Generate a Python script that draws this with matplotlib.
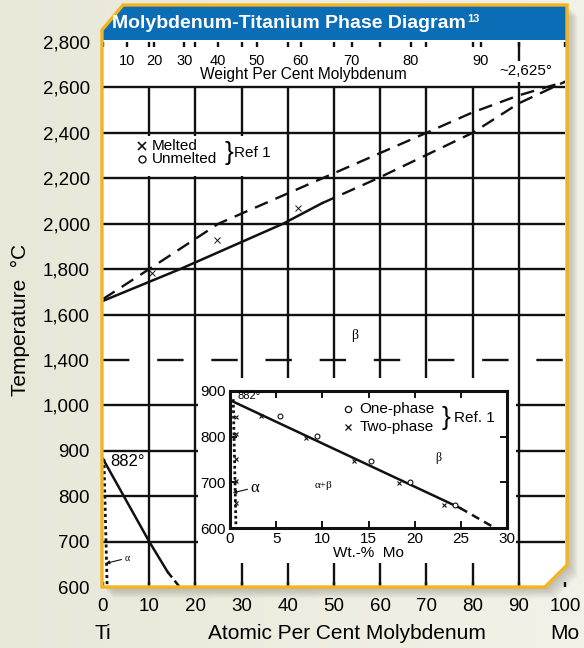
import numpy as np
import matplotlib
matplotlib.use('Agg')
import matplotlib.pyplot as plt
from matplotlib.patches import Polygon, Rectangle

plt.rcParams['font.family'] = ['Liberation Sans', 'DejaVu Sans']
plt.rcParams['lines.scale_dashes'] = False
SERIF = ['Liberation Serif', 'DejaVu Serif']

# ---------------- data ----------------
# main diagram, atomic % Mo vs temperature (C)
liq_x = [0, 10, 25, 47.5, 70, 80, 90, 100]
liq_t = [1668, 1800, 2000, 2200, 2400, 2490, 2565, 2625]
sol_x = [0, 16.7, 39, 47.4]
sol_t = [1660, 1800, 2000, 2090]
sol_dash_x = [47.4, 59.5, 80, 90, 100]
sol_dash_t = [2090, 2200, 2400, 2530, 2625]
melted_x = [10.6, 24.7, 42.3]
melted_t = [1782, 1929, 2071]

tr_x = [0, 10, 14]
tr_t = [882, 700, 633]
tr_dash_x = [14, 16.6]
tr_dash_t = [633, 600]
alpha_x = [0.2, 0.9]
alpha_t = [882, 600]

# inset, weight % Mo
in_tr_x = [0, 24.9]
in_tr_t = [880, 644]
in_dash_x = [24.9, 28.7]
in_dash_t = [644, 600]
in_alpha_x = [0.35, 0.65]
in_alpha_t = [882, 600]
one_x = [5.4, 9.4, 15.3, 19.5, 24.4]
one_t = [845, 801, 747, 701, 651]
two_x = [3.4, 8.2, 13.4, 18.3, 23.2, 0.7, 0.7, 0.7, 0.7, 0.7]
two_t = [845, 797, 747, 699, 651, 843, 806, 750, 702, 655]

y_ticks = [600, 700, 800, 900, 1000, 1400, 1600, 1800, 2000, 2200, 2400, 2600, 2800]
x_ticks = list(range(0, 101, 10))
wt_ticks = list(range(10, 100, 10))
in_x_ticks = [0, 5, 10, 15, 20, 25, 30]
in_y_ticks = [600, 700, 800, 900]

W, H = 584, 648
INK = '#111111'
YEL = '#f4b41f'
BLUE = '#0b6db5'


def fbox(l, t, r, b):
    return [l / W, 1 - b / H, (r - l) / W, (b - t) / H]


# broken temperature axis: 100 C steps below 1000, 200 C steps above 1400
def fwd(t):
    t = np.asarray(t, float)
    return np.where(t < 1000, (t - 600) / 100,
                    np.where(t < 1400, 4 + (t - 1000) / 400, 5 + (t - 1400) / 200))


def inv(v):
    v = np.asarray(v, float)
    return np.where(v < 4, 600 + 100 * v,
                    np.where(v < 5, 1000 + 400 * (v - 4), 1400 + 200 * (v - 5)))


# atomic % <-> weight % Mo
def at2wt(a):
    a = np.asarray(a, float)
    return 100 * a * 95.95 / (a * 95.95 + (100 - a) * 47.87)


def wt2at(w):
    w = np.asarray(w, float)
    return 100 * (w / 95.95) / (w / 95.95 + (100 - w) / 47.87)


fig = plt.figure(figsize=(W / 100, H / 100), dpi=100)

# ---------------- background, shadow, white panel ----------------
bg = fig.add_axes([0, 0, 1, 1], zorder=0)
bg.set_xlim(0, W)
bg.set_ylim(H, 0)
bg.axis('off')
grad = np.linspace(0, 1, 256)[None, :, None]
c0 = np.array([0.914, 0.906, 0.847])
c1 = np.array([0.952, 0.949, 0.910])
bg.imshow(c0 + (c1 - c0) * grad, extent=[0, W, H, 0], aspect='auto')
frame = np.array([(102, 30), (123, 5), (567, 5), (567, 565), (545, 587), (102, 587)])
for i in range(10):
    bg.add_patch(Polygon(frame + (2 + i, 2 + i), closed=True, color='#6f6f66',
                         alpha=0.045, lw=0))
bg.add_patch(Polygon(frame, closed=True, facecolor='white', lw=0))

# ---------------- main axes ----------------
ax = fig.add_axes(fbox(103, 42, 565, 587), zorder=1)
ax.set_facecolor('none')
ax.set_yscale('function', functions=(fwd, inv))
ax.set_xlim(0, 100)
ax.set_ylim(600, 2800)
for s in ax.spines.values():
    s.set_visible(False)

glw = 1.7
ax.vlines(x_ticks[1:9], 600, 2600, color=INK, lw=glw, zorder=2)
ax.vlines(90, 600, 2800, color=INK, lw=glw, zorder=2)
ax.hlines([700, 800, 900, 1000, 1600, 1800, 2000, 2200, 2400, 2600], 0, 100,
          color=INK, lw=glw, zorder=2)
ax.hlines(1400, 0, 100, color=INK, lw=glw, linestyles=[(0, (19, 20))], zorder=2)

# white boxes for the legend and the inset
ax.add_patch(Rectangle((2.2, 2212), 35, 176, facecolor='white', lw=0, zorder=3))
ax.add_patch(Rectangle((20.5, 653), 69.0, 591, facecolor='white', lw=0, zorder=3))

ax.plot(liq_x, liq_t, color=INK, lw=1.7, ls=(0, (10, 6)), zorder=4)
ax.plot(sol_x, sol_t, color=INK, lw=1.8, zorder=4)
ax.plot(sol_dash_x, sol_dash_t, color=INK, lw=1.7, ls=(0, (10, 6)), zorder=4)
ax.plot(melted_x, melted_t, ls='none', marker='x', ms=4, mew=0.7, color=INK, zorder=5)

ax.plot(tr_x, tr_t, color=INK, lw=1.8, zorder=4)
ax.plot(tr_dash_x, tr_dash_t, color=INK, lw=1.8, ls=(0, (5, 3)), zorder=4)
ax.plot(alpha_x, alpha_t, color=INK, lw=2.0, ls=(0, (2.2, 2.2)), zorder=4)

ax.set_xticks(x_ticks)
ax.tick_params(axis='x', top=True, bottom=True, direction='in', length=3.8,
               width=1.7, color=INK, labelsize=13.5, pad=8)
ax.set_yticks(y_ticks)
ax.set_yticklabels([f'{t:,}' for t in y_ticks])
ax.tick_params(axis='y', length=0, labelsize=13.5, pad=9.5)

sec = ax.secondary_xaxis('top', functions=(at2wt, wt2at))
sec.set_xticks(wt_ticks)
sec.tick_params(direction='in', length=3.8, width=1.7, color=INK,
                labelsize=10.5, pad=-19)
sec.spines['top'].set_visible(False)

ax.text(43.3, 2655, 'Weight Per Cent Molybdenum', fontsize=11.2, ha='center',
        va='center', zorder=5)
ax.text(91.5, 2672, '~2,625°', fontsize=11, ha='center', va='center', zorder=5,
        bbox=dict(facecolor='white', edgecolor='none', pad=2.5))

# legend of the main diagram
ax.plot([8.4], [2342], ls='none', marker='x', ms=5.5, mew=1.2, color=INK, zorder=5)
ax.plot([8.4], [2284], ls='none', marker='o', ms=5, mew=1.0, mfc='white',
        color=INK, zorder=5)
ax.text(10.6, 2342, 'Melted', fontsize=11, va='center', zorder=5)
ax.text(10.6, 2284, 'Unmelted', fontsize=11, va='center', zorder=5)
ax.text(26.3, 2312, '}', fontsize=19, va='center', zorder=5)
ax.text(28.3, 2312, 'Ref 1', fontsize=11, va='center', zorder=5)

ax.text(54.5, 1508, 'β', fontsize=10, family=SERIF, ha='center', va='center', zorder=5)
ax.text(1.5, 876, '882°', fontsize=12, va='center', zorder=5)
ax.annotate('α', xy=(0.6, 652), xytext=(4.6, 662), fontsize=7, family=SERIF,
            va='center', ha='left', zorder=5,
            arrowprops=dict(arrowstyle='-|>', lw=0.8, mutation_scale=5,
                            shrinkA=0, shrinkB=0, relpos=(0, 0.5), color=INK))

xt = ax.get_xaxis_transform()
ax.text(0, -0.086, 'Ti', transform=xt, fontsize=15, ha='center', va='center')
ax.text(52.9, -0.086, 'Atomic Per Cent Molybdenum', transform=xt, fontsize=15,
        ha='center', va='center')
ax.text(100, -0.086, 'Mo', transform=xt, fontsize=15, ha='center', va='center')
fig.text(20 / W, 1 - 320 / H, 'Temperature  °C', rotation=90, fontsize=15,
         ha='center', va='center')

# ---------------- inset ----------------
ins = fig.add_axes(fbox(230, 391, 507, 528), zorder=2)
ins.set_xlim(0, 30)
ins.set_ylim(600, 900)
for s in ins.spines.values():
    s.set_linewidth(2.2)
    s.set_color(INK)
ins.set_xticks(in_x_ticks)
ins.set_yticks(in_y_ticks)
ins.tick_params(direction='in', top=True, right=True, length=5, width=1.4,
                color=INK, labelsize=11, pad=3)
ins.set_xlabel('Wt.-%  Mo', fontsize=11, labelpad=0)

ins.plot(in_tr_x, in_tr_t, color=INK, lw=1.8)
ins.plot(in_dash_x, in_dash_t, color=INK, lw=1.8, ls=(0, (6, 4)))
ins.plot(in_alpha_x, in_alpha_t, color=INK, lw=2.0, ls=(0, (2, 2)))
ins.plot(one_x, one_t, ls='none', marker='o', ms=3.5, mew=0.8, mfc='white', color=INK)
ins.plot(two_x, two_t, ls='none', marker='x', ms=3.5, mew=0.8, color=INK)

ins.plot([12.8], [861], ls='none', marker='o', ms=4.5, mew=0.9, mfc='white', color=INK)
ins.plot([12.8], [821], ls='none', marker='x', ms=4.5, mew=0.9, color=INK)
ins.text(14.0, 861, 'One-phase', fontsize=11, va='center')
ins.text(14.0, 821, 'Two-phase', fontsize=11, va='center')
ins.text(22.9, 841, '}', fontsize=19, va='center')
ins.text(24.3, 841, 'Ref. 1', fontsize=11, va='center')
ins.text(0.8, 890, '882°', fontsize=8, va='center')
ins.text(10.1, 694, 'α+β', fontsize=8, family=SERIF, ha='center', va='center')
ins.text(22.6, 753, 'β', fontsize=8.5, family=SERIF, ha='center', va='center')
ins.annotate('α', xy=(0.3, 677), xytext=(2.2, 688), fontsize=12, family=SERIF,
             va='center', ha='left',
             arrowprops=dict(arrowstyle='-|>', lw=0.8, mutation_scale=5,
                             shrinkA=0, shrinkB=0, relpos=(0, 0.45), color=INK))

# ---------------- frame and banner ----------------
ov = fig.add_axes([0, 0, 1, 1], zorder=3)
ov.set_xlim(0, W)
ov.set_ylim(H, 0)
ov.axis('off')
banner = [(102, 30), (123, 5), (567, 5), (567, 40), (102, 40)]
ov.add_patch(Polygon(banner, closed=True, facecolor=BLUE, lw=0))
ov.add_patch(Polygon(frame, closed=True, facecolor='none', edgecolor=YEL, lw=2.4,
                     joinstyle='miter'))

title = fig.text(112 / W, 1 - 23 / H, 'Molybdenum-Titanium Phase Diagram',
                 color='white', fontsize=14, weight='bold', ha='left', va='center')
fig.canvas.draw()
bb = title.get_window_extent()
fig.text((bb.x1 + 1) / W, (bb.y1 + 1) / H, '13', color='white', fontsize=8,
         weight='bold', ha='left', va='top')

plt.savefig('out.png', dpi=100)
